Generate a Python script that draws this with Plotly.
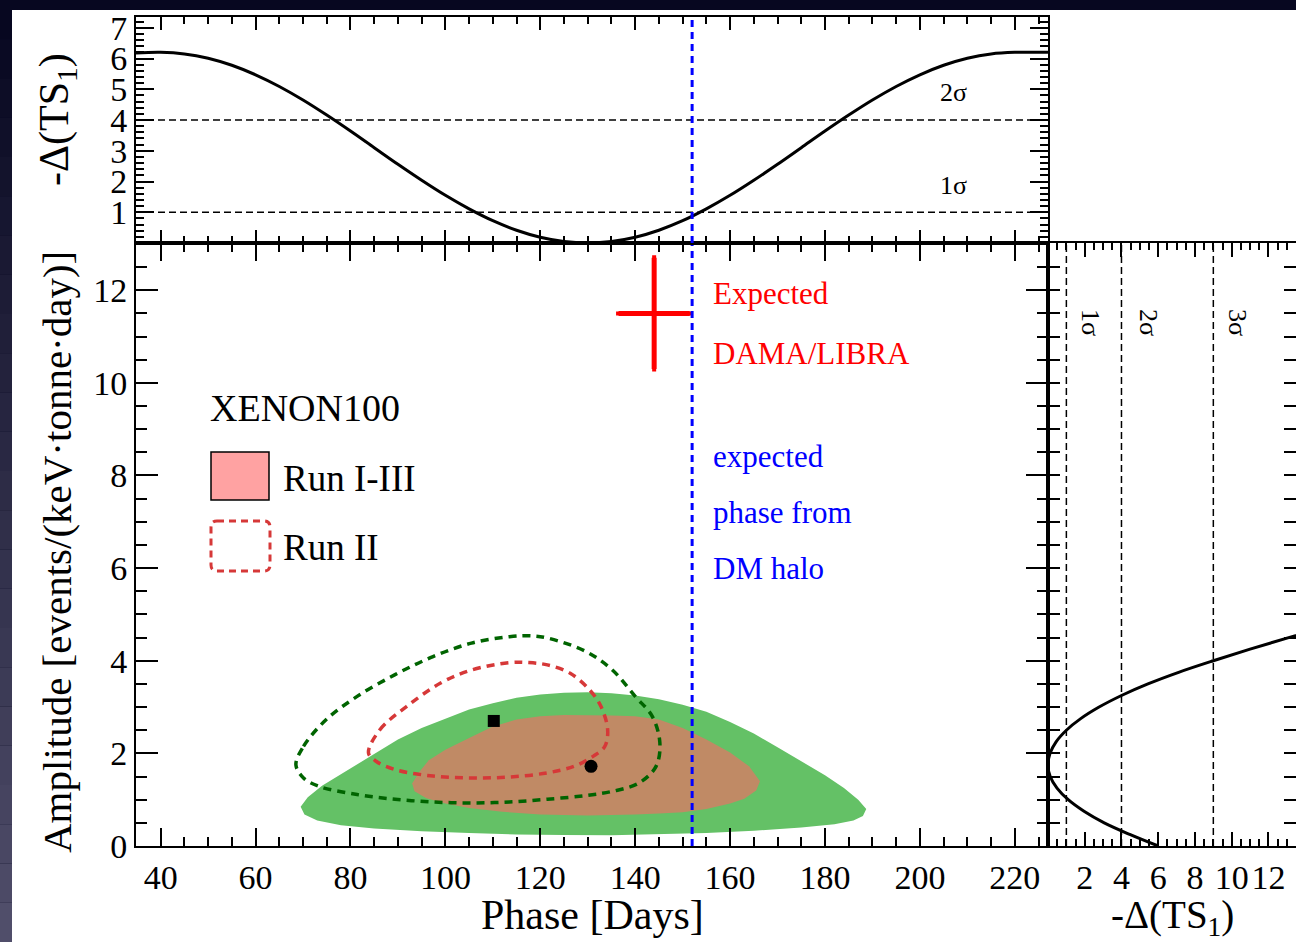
import plotly.graph_objects as go

W, H = 1296, 942
FONT = "Liberation Serif"

# ---------------- data ----------------
# Run I-III, 2 sigma region (phase [days], amplitude)
r13_2s_phase = [69.5, 71, 74, 78, 82, 86, 90, 95, 100, 105, 110, 115, 120, 125, 130, 135, 140, 145, 150,
                155, 160, 165, 170, 175, 180, 184, 187, 188.7, 188, 186, 182, 175, 165, 155, 145, 135,
                125, 115, 105, 95, 85, 78, 73, 70.3, 69.5]
r13_2s_amp = [0.85, 1.05, 1.3, 1.55, 1.8, 2.05, 2.3, 2.55, 2.75, 2.95, 3.08, 3.2, 3.27, 3.31, 3.32, 3.3, 3.25,
              3.17, 3.05, 2.9, 2.68, 2.43, 2.13, 1.83, 1.53, 1.25, 1.0, 0.8, 0.65, 0.55, 0.47, 0.4, 0.33,
              0.28, 0.25, 0.23, 0.24, 0.25, 0.28, 0.32, 0.38, 0.45, 0.55, 0.68, 0.85]
# Run I-III, 1 sigma region
r13_1s_phase = [93, 94.5, 96.5, 100, 105, 110, 115, 120, 125, 130, 135, 140, 145, 150, 155, 160, 164, 166.3,
                165.5, 163, 160, 155, 150, 145, 140, 130, 120, 112, 105, 100, 96, 93.5, 93]
r13_1s_amp = [1.35, 1.6, 1.85, 2.08, 2.33, 2.58, 2.73, 2.8, 2.83, 2.83, 2.82, 2.8, 2.73, 2.55, 2.3, 2.02, 1.72,
              1.4, 1.2, 1.02, 0.92, 0.8, 0.73, 0.7, 0.68, 0.66, 0.68, 0.74, 0.82, 0.92, 1.03, 1.18, 1.35]
# Run II, 2 sigma contour
r2_2s_phase = [68.5, 70.1, 74.9, 81.4, 89.4, 97.4, 105.5, 113.5, 117.5, 121.5, 129.6, 135.2, 140.0, 143.6,
               145.2, 144.4, 140.8, 135.2, 129.6, 121.5, 113.5, 105.5, 97.4, 89.4, 81.4, 73.3, 70.1, 68.5]
r2_2s_amp = [1.75, 2.15, 2.73, 3.23, 3.70, 4.09, 4.38, 4.52, 4.54, 4.49, 4.20, 3.80, 3.23, 2.80,
             2.23, 1.72, 1.36, 1.18, 1.09, 1.01, 0.95, 0.93, 0.95, 1.01, 1.11, 1.29, 1.47, 1.75]
# Run II, 1 sigma contour
r2_1s_phase = [83.8, 86.2, 91.8, 99.0, 105.5, 113.5, 117.5, 121.5, 126.3, 130.4, 132.8, 134.2, 133.6, 131.2,
               127.1, 121.5, 113.5, 105.5, 97.4, 89.4, 85.4, 83.8]
r2_1s_amp = [2.01, 2.51, 3.01, 3.52, 3.80, 3.96, 3.96, 3.91, 3.73, 3.37, 3.01, 2.51, 2.15, 1.94,
             1.72, 1.58, 1.49, 1.47, 1.51, 1.65, 1.83, 2.01]
# best fits
best_r13 = (130.7, 1.72)
best_r2 = (110.2, 2.70)
# DAMA/LIBRA expectation
dama_phase, dama_phase_err = 144.0, 7.5
dama_amp, dama_amp_err = 11.5, 1.2
halo_phase = 152.0

# profile in phase (top panel)
prof_phase = [34.8, 40, 45, 50, 55, 60, 65, 70, 75, 80, 85, 90, 95, 100, 105, 110, 115, 120, 125, 130,
              135, 140, 145, 150, 155, 160, 165, 170, 175, 180, 185, 190, 195, 200, 205, 210, 215, 220, 227]
prof_phase_ts = [6.18, 6.2, 6.15, 6.01, 5.78, 5.47, 5.09, 4.65, 4.16, 3.64, 3.10, 2.56, 2.04, 1.55, 1.11,
                 0.725, 0.415, 0.187, 0.047, 0.0, 0.047, 0.187, 0.415, 0.725, 1.11, 1.55, 2.04, 2.56,
                 3.10, 3.64, 4.16, 4.65, 5.09, 5.47, 5.78, 6.01, 6.15, 6.2, 6.2]
# profile in amplitude (right panel)
prof_amp = [0.0, 0.25, 0.5, 0.75, 1.0, 1.25, 1.5, 1.75, 2.0, 2.25, 2.5, 2.75, 3.0, 3.25, 3.5, 3.75, 4.0,
            4.25, 4.5, 4.75]
prof_amp_ts = [6.0, 4.45, 3.06, 1.96, 1.1, 0.49, 0.12, 0.0, 0.11, 0.44, 1.0, 1.78, 2.78, 4.0, 5.44, 7.11,
               9.0, 11.0, 13.1, 15.3]
sigma_levels = [1, 4, 9]
sigma_labels = ["1σ", "2σ", "3σ"]

phase_range = [34.8, 227.0]
amp_range = [0, 13.02]
ts_range_top = [0, 7.35]
ts_range_right = [0, 13.5]

# ---------------- layout helpers ----------------
def px(x):
    return x / W

def py(y):
    return 1 - y / H

X0, X1, XR = px(136), px(1048), 1.0
YB, YM, YT = py(846), py(243), py(17)

fig = go.Figure()

# main panel
fig.add_trace(go.Scatter(x=r13_2s_phase, y=r13_2s_amp, fill="toself", mode="lines",
                         line=dict(width=0, color="rgb(100,193,102)"), fillcolor="rgb(100,193,102)",
                         showlegend=False, hoverinfo="skip"))
fig.add_trace(go.Scatter(x=r13_1s_phase, y=r13_1s_amp, fill="toself", mode="lines",
                         line=dict(width=0, color="rgb(192,138,101)"), fillcolor="rgb(192,138,101)",
                         showlegend=False, hoverinfo="skip"))
fig.add_trace(go.Scatter(x=r2_2s_phase, y=r2_2s_amp, mode="lines", line_shape="spline",
                         line=dict(width=3.5, color="rgb(0,100,0)", dash="8px,6px"), showlegend=False))
fig.add_trace(go.Scatter(x=r2_1s_phase, y=r2_1s_amp, mode="lines", line_shape="spline",
                         line=dict(width=3.5, color="rgb(214,56,56)", dash="8px,6px"), showlegend=False))
fig.add_trace(go.Scatter(x=[best_r2[0]], y=[best_r2[1]], mode="markers",
                         marker=dict(symbol="square", size=12, color="black"), showlegend=False))
fig.add_trace(go.Scatter(x=[best_r13[0]], y=[best_r13[1]], mode="markers",
                         marker=dict(symbol="circle", size=13, color="black"), showlegend=False))
fig.add_trace(go.Scatter(x=[dama_phase], y=[dama_amp], mode="markers",
                         marker=dict(size=2, color="red"),
                         error_x=dict(type="constant", value=dama_phase_err, color="red", thickness=5, width=2),
                         error_y=dict(type="constant", value=dama_amp_err, color="red", thickness=5, width=2),
                         showlegend=False))
fig.add_trace(go.Scatter(x=[halo_phase, halo_phase], y=amp_range, mode="lines",
                         line=dict(width=3, color="blue", dash="7px,5px"), showlegend=False))

# top panel
for lvl in sigma_levels[:2]:
    fig.add_trace(go.Scatter(x=phase_range, y=[lvl, lvl], xaxis="x2", yaxis="y2", mode="lines",
                             line=dict(width=1.5, color="black", dash="7px,4px"), showlegend=False))
fig.add_trace(go.Scatter(x=prof_phase, y=prof_phase_ts, xaxis="x2", yaxis="y2", mode="lines",
                         line_shape="spline", line=dict(width=3, color="black"), showlegend=False))
fig.add_trace(go.Scatter(x=[halo_phase, halo_phase], y=ts_range_top, xaxis="x2", yaxis="y2", mode="lines",
                         line=dict(width=3, color="blue", dash="7px,5px"), showlegend=False))

# right panel
for lvl in sigma_levels:
    fig.add_trace(go.Scatter(x=[lvl, lvl], y=amp_range, xaxis="x3", yaxis="y3", mode="lines",
                             line=dict(width=1.5, color="black", dash="7px,4px"), showlegend=False))
fig.add_trace(go.Scatter(x=prof_amp_ts, y=prof_amp, xaxis="x3", yaxis="y3", mode="lines",
                         line_shape="spline", line=dict(width=3, color="black"), showlegend=False))

tickfont = dict(family=FONT, size=34, color="black")
common = dict(showline=True, linecolor="black", linewidth=2, ticks="inside", tickcolor="black",
              tickwidth=2, showgrid=False, zeroline=False, mirror="ticks", tickfont=tickfont,
              automargin=False)

fig.update_layout(
    width=W, height=H, margin=dict(l=0, r=0, t=0, b=0, pad=0, autoexpand=False),
    paper_bgcolor="#070720", plot_bgcolor="white", showlegend=False,
    xaxis=dict(domain=[X0, X1], anchor="y", range=phase_range, tickvals=list(range(40, 221, 20)),
               ticklen=18, minor=dict(dtick=5, ticklen=9, ticks="inside", tickcolor="black", tickwidth=2),
               **common),
    yaxis=dict(domain=[YB, YM], anchor="x", range=amp_range, tickvals=list(range(0, 13, 2)),
               ticklen=22, minor=dict(dtick=0.5, ticklen=11, ticks="inside", tickcolor="black", tickwidth=2),
               **common),
    xaxis2=dict(domain=[X0, X1], anchor="y2", range=phase_range, matches="x", showticklabels=False,
                tickvals=list(range(40, 221, 20)), ticklen=13,
                minor=dict(dtick=5, ticklen=7, ticks="inside", tickcolor="black", tickwidth=2), **common),
    yaxis2=dict(domain=[YM, YT], anchor="x2", range=ts_range_top, tickvals=list(range(1, 8)),
                ticklen=18, minor=dict(dtick=0.2, ticklen=8, ticks="inside", tickcolor="black", tickwidth=2),
                **common),
    xaxis3=dict(domain=[X1, XR], anchor="y3", range=ts_range_right, tickvals=list(range(2, 13, 2)),
                ticklen=14, minor=dict(dtick=0.5, ticklen=7, ticks="inside", tickcolor="black", tickwidth=2),
                **common),
    yaxis3=dict(domain=[YB, YM], anchor="x3", range=amp_range, matches="y", showticklabels=False,
                dtick=0.5, ticklen=12, **common),
)

shapes = []
# white page
shapes.append(dict(type="rect", xref="paper", yref="paper", x0=px(12), x1=1, y0=0, y1=py(10),
                   fillcolor="white", line=dict(width=0), layer="below"))
# left border gradient
n = 24
for i in range(n):
    f = i / (n - 1)
    r = int(7 + f * (80 - 7)); g = int(7 + f * (78 - 7)); b = int(32 + f * (106 - 32))
    shapes.append(dict(type="rect", xref="paper", yref="paper", x0=0, x1=px(12),
                       y0=1 - (i + 1) / n, y1=1 - i / n, fillcolor=f"rgb({r},{g},{b})",
                       line=dict(width=0), layer="below"))
# legend boxes
shapes.append(dict(type="rect", xref="paper", yref="paper", x0=px(211), x1=px(269), y0=py(500), y1=py(452),
                   fillcolor="rgb(255,162,162)", line=dict(color="black", width=1.5)))
def rounded(x0, y0, x1, y1, r):
    return (f"M {px(x0 + r)} {py(y0)} L {px(x1 - r)} {py(y0)} Q {px(x1)} {py(y0)} {px(x1)} {py(y0 + r)} "
            f"L {px(x1)} {py(y1 - r)} Q {px(x1)} {py(y1)} {px(x1 - r)} {py(y1)} "
            f"L {px(x0 + r)} {py(y1)} Q {px(x0)} {py(y1)} {px(x0)} {py(y1 - r)} "
            f"L {px(x0)} {py(y0 + r)} Q {px(x0)} {py(y0)} {px(x0 + r)} {py(y0)} Z")
shapes.append(dict(type="path", xref="paper", yref="paper", path=rounded(211, 521, 270, 571, 6),
                   line=dict(color="rgb(214,56,56)", width=3, dash="7px,5px")))
fig.update_layout(shapes=shapes)

ann = []
def txt(x, y, s, size, color="black", xanchor="left", angle=0):
    ann.append(dict(x=px(x), y=py(y), xref="paper", yref="paper", text=s, showarrow=False,
                    xanchor=xanchor, yanchor="middle", textangle=angle,
                    font=dict(family=FONT, size=size, color=color)))

txt(208, 408, "XENON100", 38)
txt(281, 478, "Run I-III", 37)
txt(281, 547, "Run II", 37)
txt(711, 294, "Expected", 31, "red")
txt(711, 353, "DAMA/LIBRA", 31, "red")
txt(711, 456, "expected", 31, "blue")
txt(711, 512, "phase from", 31, "blue")
txt(711, 568, "DM halo", 31, "blue")
txt(953, 93, "2σ", 26, xanchor="center")
txt(953, 186, "1σ", 26, xanchor="center")
for xpix, lab in zip([1090, 1148, 1237], sigma_labels):
    txt(xpix, 322, lab, 26, xanchor="center", angle=90)
txt(592, 915, "Phase [Days]", 42, xanchor="center")
txt(1172, 917, "-Δ(TS<sub>1</sub>)", 39, xanchor="center")
txt(57, 552, "Amplitude [events/(keV·tonne·day)]", 41, xanchor="center", angle=-90)
txt(57, 120, "-Δ(TS<sub>1</sub>)", 42, xanchor="center", angle=-90)
fig.update_layout(annotations=ann)

fig.write_html("out.html", config={"displayModeBar": False},
               post_script="document.body.style.margin='0';")
